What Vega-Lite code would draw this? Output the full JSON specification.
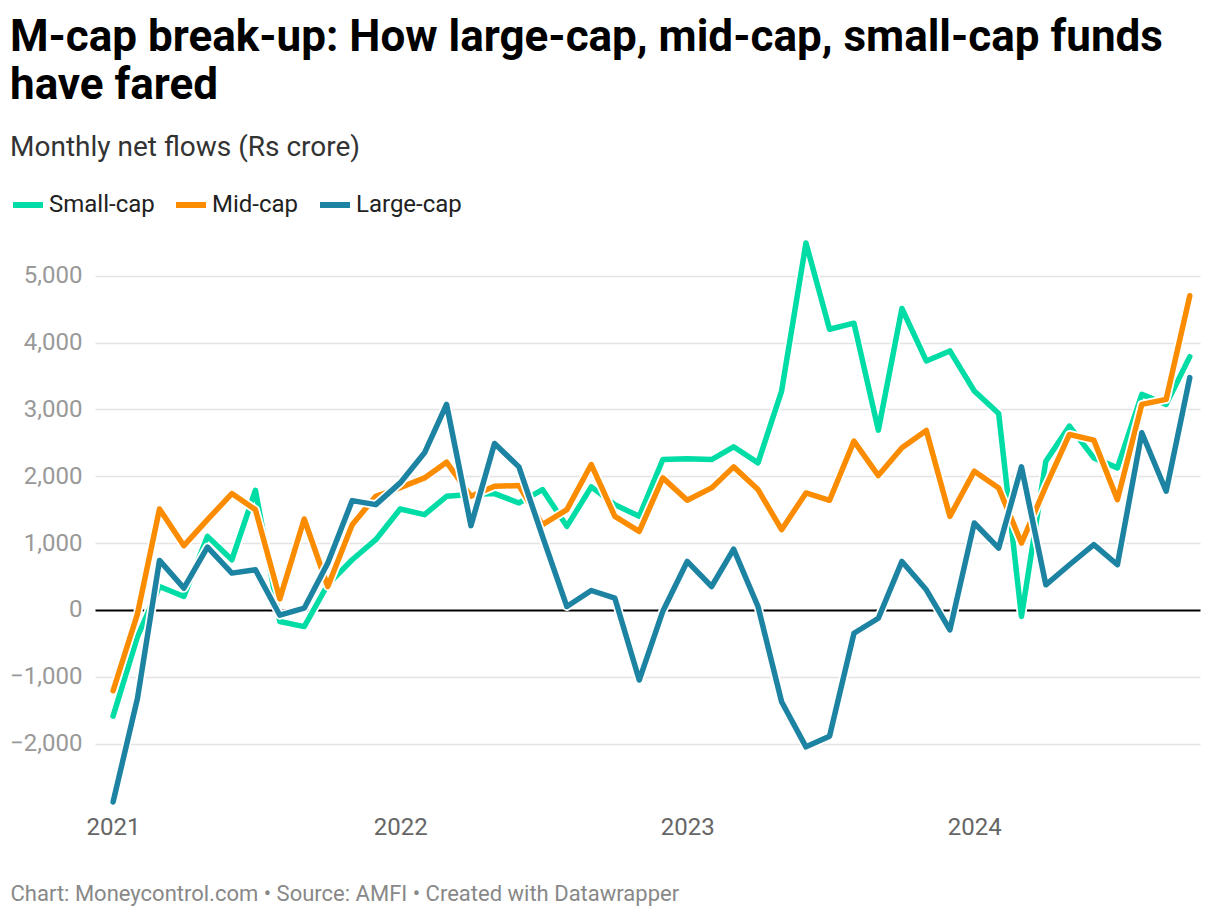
{
  "$schema": "https://vega.github.io/schema/vega-lite/v6.json",
  "autosize": "none",
  "width": 1105,
  "height": 568,
  "padding": {"left": 95, "top": 239, "right": 20, "bottom": 111},
  "background": "white",
  "title": {
    "text": ["M-cap break-up: How large-cap, mid-cap, small-cap funds", "have fared"],
    "subtitle": "Monthly net flows (Rs crore)",
    "anchor": "start",
    "frame": "group",
    "dx": -85,
    "font": "Roboto",
    "fontSize": 44,
    "fontWeight": "bold",
    "color": "#000000",
    "lineHeight": 48,
    "subtitleFont": "Roboto",
    "subtitleFontSize": 28,
    "subtitleColor": "#333333",
    "subtitlePadding": 26,
    "offset": 25
  },
  "data": {
    "values": [
      {"date": "2021-01-01", "Small-cap": -1590, "Mid-cap": -1210, "Large-cap": -2875},
      {"date": "2021-02-01", "Small-cap": -400, "Mid-cap": -60, "Large-cap": -1325},
      {"date": "2021-03-01", "Small-cap": 350, "Mid-cap": 1510, "Large-cap": 740},
      {"date": "2021-04-01", "Small-cap": 200, "Mid-cap": 960, "Large-cap": 325},
      {"date": "2021-05-01", "Small-cap": 1100, "Mid-cap": 1350, "Large-cap": 940},
      {"date": "2021-06-01", "Small-cap": 750, "Mid-cap": 1740, "Large-cap": 550},
      {"date": "2021-07-01", "Small-cap": 1790, "Mid-cap": 1500, "Large-cap": 600},
      {"date": "2021-08-01", "Small-cap": -175, "Mid-cap": 165, "Large-cap": -80},
      {"date": "2021-09-01", "Small-cap": -250, "Mid-cap": 1360, "Large-cap": 25},
      {"date": "2021-10-01", "Small-cap": 380, "Mid-cap": 350, "Large-cap": 700},
      {"date": "2021-11-01", "Small-cap": 750, "Mid-cap": 1275, "Large-cap": 1635},
      {"date": "2021-12-01", "Small-cap": 1050, "Mid-cap": 1700, "Large-cap": 1575},
      {"date": "2022-01-01", "Small-cap": 1510, "Mid-cap": 1830, "Large-cap": 1900},
      {"date": "2022-02-01", "Small-cap": 1425, "Mid-cap": 1975, "Large-cap": 2350},
      {"date": "2022-03-01", "Small-cap": 1700, "Mid-cap": 2210, "Large-cap": 3075},
      {"date": "2022-04-01", "Small-cap": 1725, "Mid-cap": 1700, "Large-cap": 1260},
      {"date": "2022-05-01", "Small-cap": 1740, "Mid-cap": 1850, "Large-cap": 2490},
      {"date": "2022-06-01", "Small-cap": 1600, "Mid-cap": 1860, "Large-cap": 2140},
      {"date": "2022-07-01", "Small-cap": 1800, "Mid-cap": 1275, "Large-cap": 1100},
      {"date": "2022-08-01", "Small-cap": 1250, "Mid-cap": 1500, "Large-cap": 50},
      {"date": "2022-09-01", "Small-cap": 1840, "Mid-cap": 2175, "Large-cap": 290},
      {"date": "2022-10-01", "Small-cap": 1575, "Mid-cap": 1400, "Large-cap": 175},
      {"date": "2022-11-01", "Small-cap": 1400, "Mid-cap": 1175, "Large-cap": -1050},
      {"date": "2022-12-01", "Small-cap": 2250, "Mid-cap": 1975, "Large-cap": -20},
      {"date": "2023-01-01", "Small-cap": 2260, "Mid-cap": 1640, "Large-cap": 725},
      {"date": "2023-02-01", "Small-cap": 2250, "Mid-cap": 1825, "Large-cap": 350},
      {"date": "2023-03-01", "Small-cap": 2440, "Mid-cap": 2140, "Large-cap": 910},
      {"date": "2023-04-01", "Small-cap": 2200, "Mid-cap": 1800, "Large-cap": 50},
      {"date": "2023-05-01", "Small-cap": 3275, "Mid-cap": 1200, "Large-cap": -1375},
      {"date": "2023-06-01", "Small-cap": 5490, "Mid-cap": 1750, "Large-cap": -2050},
      {"date": "2023-07-01", "Small-cap": 4200, "Mid-cap": 1640, "Large-cap": -1890},
      {"date": "2023-08-01", "Small-cap": 4290, "Mid-cap": 2525, "Large-cap": -350},
      {"date": "2023-09-01", "Small-cap": 2690, "Mid-cap": 2010, "Large-cap": -125},
      {"date": "2023-10-01", "Small-cap": 4510, "Mid-cap": 2425, "Large-cap": 725},
      {"date": "2023-11-01", "Small-cap": 3725, "Mid-cap": 2685, "Large-cap": 300},
      {"date": "2023-12-01", "Small-cap": 3875, "Mid-cap": 1400, "Large-cap": -300},
      {"date": "2024-01-01", "Small-cap": 3275, "Mid-cap": 2075, "Large-cap": 1300},
      {"date": "2024-02-01", "Small-cap": 2940, "Mid-cap": 1825, "Large-cap": 925},
      {"date": "2024-03-01", "Small-cap": -100, "Mid-cap": 1000, "Large-cap": 2140},
      {"date": "2024-04-01", "Small-cap": 2225, "Mid-cap": 1850, "Large-cap": 375},
      {"date": "2024-05-01", "Small-cap": 2750, "Mid-cap": 2625, "Large-cap": 675},
      {"date": "2024-06-01", "Small-cap": 2275, "Mid-cap": 2540, "Large-cap": 975},
      {"date": "2024-07-01", "Small-cap": 2125, "Mid-cap": 1650, "Large-cap": 675},
      {"date": "2024-08-01", "Small-cap": 3225, "Mid-cap": 3075, "Large-cap": 2650},
      {"date": "2024-09-01", "Small-cap": 3075, "Mid-cap": 3150, "Large-cap": 1775},
      {"date": "2024-10-01", "Small-cap": 3790, "Mid-cap": 4700, "Large-cap": 3475}
    ]
  },
  "transform": [
    {"fold": ["Small-cap", "Mid-cap", "Large-cap"], "as": ["series", "value"]}
  ],
  "encoding": {
    "x": {
      "field": "date",
      "type": "temporal",
      "scale": {
        "type": "utc",
        "domain": [
          {"year": 2020, "month": 12, "date": 9, "utc": true},
          {"year": 2024, "month": 10, "date": 14, "utc": true}
        ]
      },
      "axis": {
        "title": "Chart: Moneycontrol.com • Source: AMFI • Created with Datawrapper",
        "titleAnchor": "start",
        "titleAlign": "left",
        "titleX": -85,
        "titleY": 93,
        "titleBaseline": "alphabetic",
        "titleFont": "Roboto",
        "titleFontSize": 22,
        "titleFontWeight": "normal",
        "titleColor": "#888888",
        "format": "%Y",
        "formatType": "utc",
        "tickCount": {"interval": "year", "step": 1},
        "grid": false,
        "domain": false,
        "ticks": false,
        "labelFont": "Roboto",
        "labelFontSize": 24,
        "labelColor": "#666666",
        "labelPadding": 8
      }
    },
    "y": {
      "field": "value",
      "type": "quantitative",
      "scale": {"domain": [-2950, 5550], "nice": false, "zero": false},
      "axis": {
        "title": null,
        "values": [-2000, -1000, 0, 1000, 2000, 3000, 4000, 5000],
        "format": ",.0f",
        "domain": false,
        "ticks": false,
        "labelFont": "Roboto",
        "labelFontSize": 24,
        "labelColor": "#999999",
        "labelPadding": 13,
        "gridColor": {"condition": {"test": "datum.value === 0", "value": "#000000"}, "value": "#e3e3e3"},
        "gridWidth": {"condition": {"test": "datum.value === 0", "value": 2}, "value": 1.5}
      }
    }
  },
  "layer": [
    {
      "transform": [{"filter": "datum.series === 'Small-cap'"}],
      "mark": {"type": "line", "stroke": "white", "strokeWidth": 9, "strokeCap": "round", "strokeJoin": "round"}
    },
    {
      "transform": [{"filter": "datum.series === 'Small-cap'"}],
      "mark": {"type": "line", "strokeWidth": 5.5, "strokeCap": "round", "strokeJoin": "round"},
      "encoding": {
        "color": {
          "field": "series",
          "type": "nominal",
          "scale": {"domain": ["Small-cap", "Mid-cap", "Large-cap"], "range": ["#00dca5", "#fb8c00", "#1d83a2"]},
          "legend": {
            "orient": "none",
            "legendX": -85,
            "legendY": -52,
            "direction": "horizontal",
            "title": null,
            "symbolType": "stroke",
            "symbolStrokeWidth": 6,
            "symbolSize": 900,
            "labelFont": "Roboto",
            "labelFontSize": 24,
            "labelColor": "#222222",
            "labelOffset": 3,
            "columnPadding": 9
          }
        }
      }
    },
    {
      "transform": [{"filter": "datum.series === 'Mid-cap'"}],
      "mark": {"type": "line", "stroke": "white", "strokeWidth": 9, "strokeCap": "round", "strokeJoin": "round"}
    },
    {
      "transform": [{"filter": "datum.series === 'Mid-cap'"}],
      "mark": {"type": "line", "strokeWidth": 5.5, "strokeCap": "round", "strokeJoin": "round"},
      "encoding": {"color": {"field": "series", "type": "nominal"}}
    },
    {
      "transform": [{"filter": "datum.series === 'Large-cap'"}],
      "mark": {"type": "line", "stroke": "white", "strokeWidth": 9, "strokeCap": "round", "strokeJoin": "round"}
    },
    {
      "transform": [{"filter": "datum.series === 'Large-cap'"}],
      "mark": {"type": "line", "strokeWidth": 5.5, "strokeCap": "round", "strokeJoin": "round"},
      "encoding": {"color": {"field": "series", "type": "nominal"}}
    }
  ],
  "config": {
    "view": {"stroke": null},
    "font": "Roboto"
  }
}
